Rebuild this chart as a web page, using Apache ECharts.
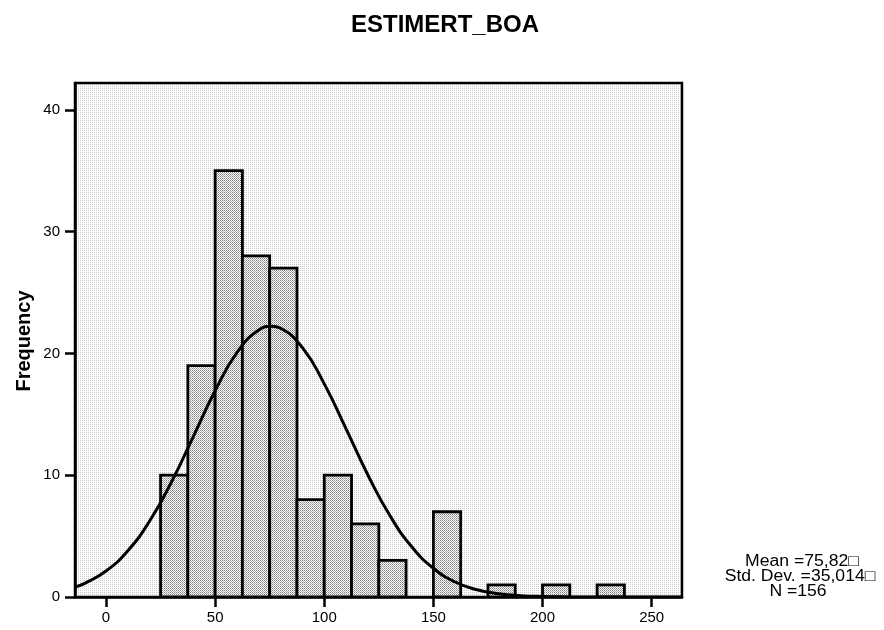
<!DOCTYPE html>
<html>
<head>
<meta charset="utf-8">
<script src="https://cdn.jsdelivr.net/npm/echarts@6/dist/echarts.min.js"></script>
<style>
html,body{margin:0;padding:0;background:#fff;}
#chart{width:884px;height:630px;}
</style>
</head>
<body>
<div id="chart"></div>
<script>
// ---- data ----
var chartTitle = 'ESTIMERT_BOA';
var yAxisName = 'Frequency';
var binWidth = 12.5;
var binStart = [25, 37.5, 50, 62.5, 75, 87.5, 100, 112.5, 125, 137.5, 150, 162.5, 175, 187.5, 200, 212.5, 225];
var binCount = [10, 19, 35, 28, 27, 8, 10, 6, 3, 0, 7, 0, 1, 0, 1, 0, 1];
var curveX = [-14, -10, 0, 10, 20, 30, 40, 50, 60, 70, 76, 80, 90, 100, 110, 120, 130, 140, 150, 160, 170, 180, 190, 200, 210, 220, 240, 264];
var curveY = [0.83, 1.10, 2.13, 3.80, 6.24, 9.44, 13.17, 16.93, 20.06, 21.92, 22.22, 22.06, 20.47, 17.50, 13.80, 10.02, 6.71, 4.14, 2.36, 1.23, 0.60, 0.27, 0.11, 0.04, 0.01, 0, 0, 0];
var xTicks = [0, 50, 100, 150, 200, 250];
var yTicks = [0, 10, 20, 30, 40];
var statsLines = ['Mean =75,82\u25A1', 'Std. Dev. =35,014\u25A1', 'N =156'];

// ---- patterns ----
function makeTile(size, dots) {
  var c = document.createElement('canvas');
  c.width = size; c.height = size;
  var ctx = c.getContext('2d');
  ctx.fillStyle = '#ffffff';
  ctx.fillRect(0, 0, size, size);
  dots.forEach(function (d) {
    ctx.fillStyle = d[2];
    ctx.fillRect(d[0], d[1], 1, 1);
  });
  return c;
}
var bgTile = makeTile(2, [[0, 0, '#c8c8c8']]);
var barTile = makeTile(2, [[0, 0, '#7c7c7c'], [1, 1, '#aaaaaa']]);
var bgPattern = { image: bgTile, repeat: 'repeat' };
var barPattern = { image: barTile, repeat: 'repeat' };

var barData = binStart.map(function (s, i) { return [s, s + binWidth, binCount[i]]; });
var curveData = curveX.map(function (x, i) { return [x, curveY[i]]; });

var chart = echarts.init(document.getElementById('chart'), null, { renderer: 'canvas' });
var font = '"Liberation Sans", Arial, sans-serif';

chart.setOption({
  animation: false,
  backgroundColor: '#ffffff',
  grid: {
    left: 75, right: 202, top: 83, bottom: 33,
    show: true,
    backgroundColor: bgPattern,
    borderColor: '#000',
    borderWidth: 2.5
  },
  xAxis: {
    type: 'value',
    min: -14.2,
    max: 263.9,
    axisLine: { show: true, onZero: false, lineStyle: { color: '#000', width: 2.5 } },
    axisTick: { show: true, customValues: xTicks, length: 10, lineStyle: { color: '#000', width: 2.5 } },
    axisLabel: { customValues: xTicks, margin: 13, color: '#000', fontSize: 15, fontFamily: font },
    splitLine: { show: false }
  },
  yAxis: {
    type: 'value',
    min: 0,
    max: 42.2,
    axisLine: { show: true, onZero: false, lineStyle: { color: '#000', width: 2.5 } },
    axisTick: { show: true, customValues: yTicks, length: 10, lineStyle: { color: '#000', width: 2.5 } },
    axisLabel: { customValues: yTicks, margin: 15, color: '#000', fontSize: 15, fontFamily: font },
    splitLine: { show: false }
  },
  series: [
    {
      type: 'custom',
      data: barData,
      clip: true,
      z: 2,
      renderItem: function (params, api) {
        var x0 = api.value(0), x1 = api.value(1), v = api.value(2);
        if (!v) return null;
        var p0 = api.coord([x0, v]);
        var p1 = api.coord([x1, 0]);
        return {
          type: 'rect',
          shape: { x: p0[0], y: p0[1], width: p1[0] - p0[0], height: p1[1] - p0[1] },
          style: { fill: barPattern, stroke: '#000', lineWidth: 2.8 }
        };
      }
    },
    {
      type: 'line',
      data: curveData,
      smooth: true,
      showSymbol: false,
      symbol: 'none',
      clip: true,
      z: 3,
      lineStyle: { color: '#000', width: 3 }
    }
  ],
  graphic: [
    {
      type: 'text', x: 445, y: 25.5, z: 10,
      style: { text: chartTitle, font: 'bold 24px ' + font, fill: '#000', align: 'center', verticalAlign: 'middle' }
    },
    {
      type: 'text', x: 24, y: 341, rotation: Math.PI / 2, z: 10,
      style: { text: yAxisName, font: 'bold 20px ' + font, fill: '#000', align: 'center', verticalAlign: 'middle' }
    },
    {
      type: 'text', x: 802, y: 562, z: 10, scaleX: 1.1,
      style: { text: statsLines[0], font: '16px ' + font, fill: '#000', align: 'center', verticalAlign: 'middle' }
    },
    {
      type: 'text', x: 800, y: 577, z: 10, scaleX: 1.1,
      style: { text: statsLines[1], font: '16px ' + font, fill: '#000', align: 'center', verticalAlign: 'middle' }
    },
    {
      type: 'text', x: 798, y: 592, z: 10, scaleX: 1.1,
      style: { text: statsLines[2], font: '16px ' + font, fill: '#000', align: 'center', verticalAlign: 'middle' }
    }
  ]
});
</script>
</body>
</html>
